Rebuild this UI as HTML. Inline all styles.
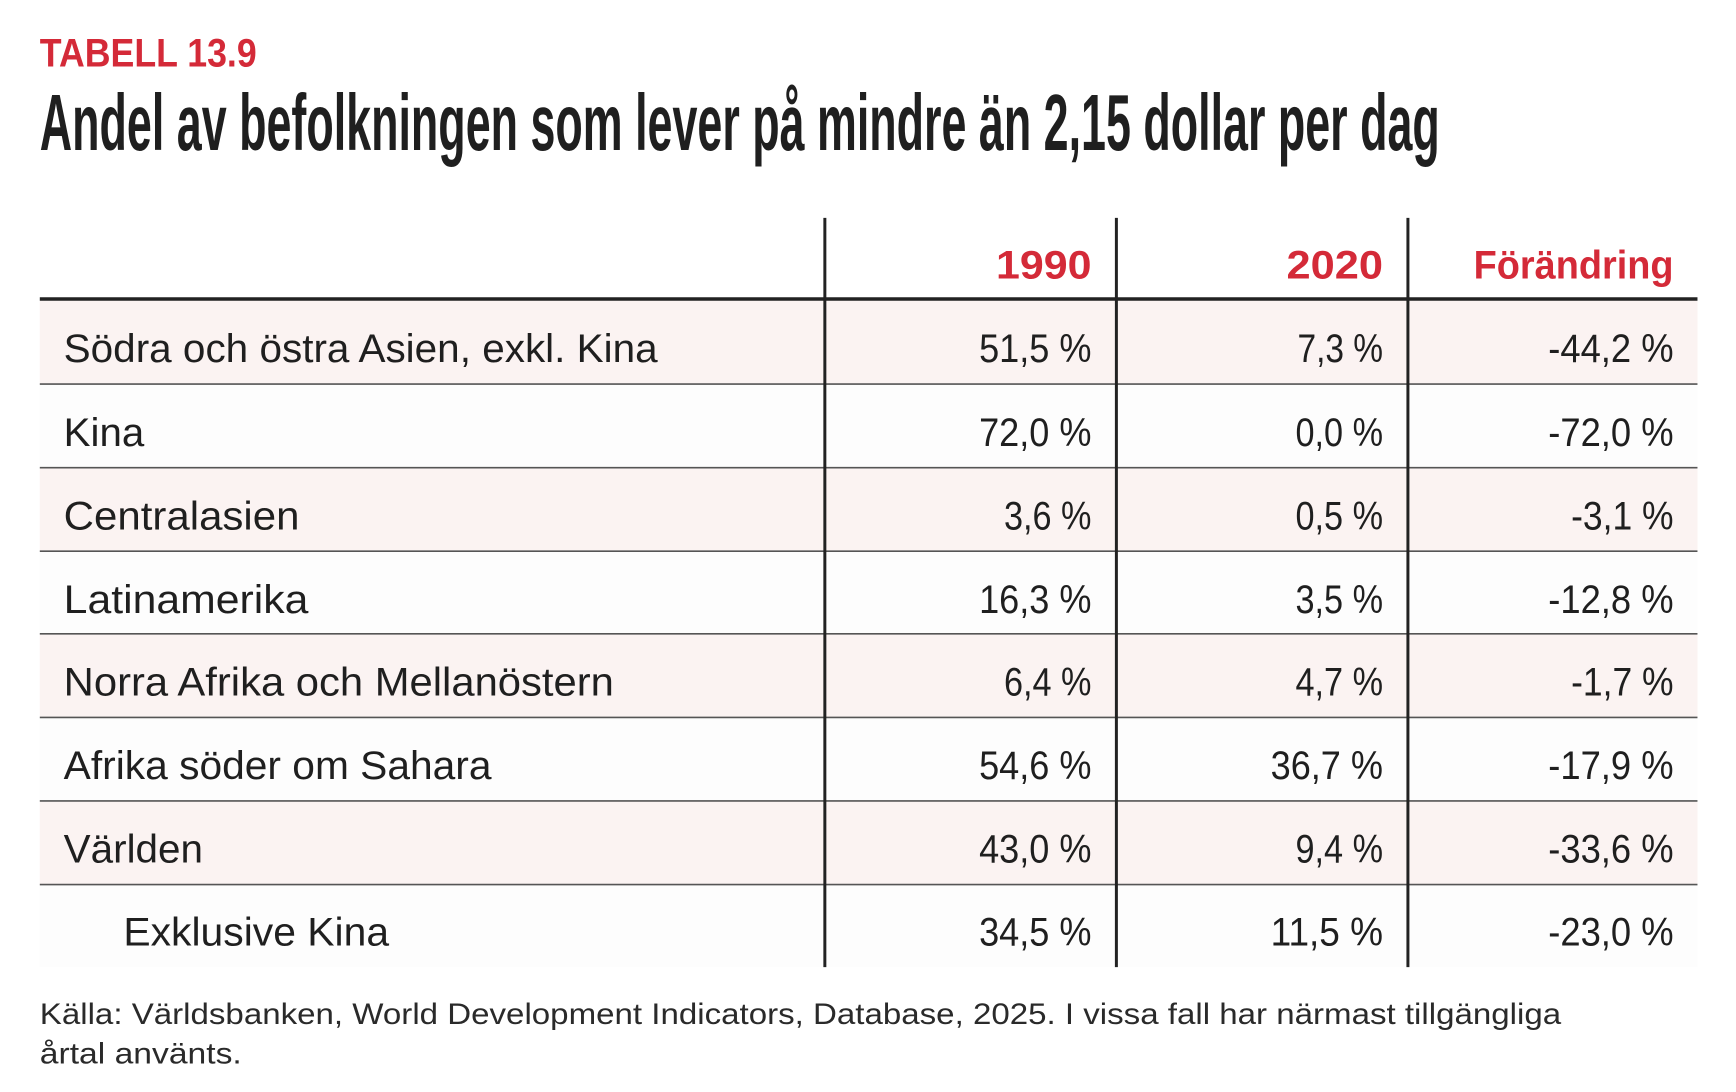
<!DOCTYPE html>
<html><head><meta charset="utf-8"><style>
html,body{margin:0;padding:0;background:#fff;}
svg{display:block;}
text{font-family:"Liberation Sans",sans-serif;}
</style></head><body>
<svg width="1736" height="1092" viewBox="0 0 1736 1092" xmlns="http://www.w3.org/2000/svg">
<rect width="1736" height="1092" fill="#fff"/>
<g transform="scale(0.995)">
<text x="40" y="67" font-size="40" font-weight="bold" fill="#d42a38" textLength="218" lengthAdjust="spacingAndGlyphs">TABELL 13.9</text>
<text x="40" y="151" font-size="80" font-weight="bold" fill="#1f1f1f" textLength="1407" lengthAdjust="spacingAndGlyphs">Andel av befolkningen som lever på mindre än 2,15 dollar per dag</text>

<g>
<rect x="40" y="302" width="1666" height="84" fill="#fbf3f2"/>
<rect x="40" y="386" width="1666" height="84" fill="#fdfdfd"/>
<rect x="40" y="470" width="1666" height="84" fill="#fbf3f2"/>
<rect x="40" y="554" width="1666" height="84" fill="#fdfdfd"/>
<rect x="40" y="637" width="1666" height="84" fill="#fbf3f2"/>
<rect x="40" y="721" width="1666" height="84" fill="#fdfdfd"/>
<rect x="40" y="805" width="1666" height="84" fill="#fbf3f2"/>
<rect x="40" y="889" width="1666" height="83" fill="#fdfdfd"/>
</g>
<g stroke="#555" stroke-width="1.6">
<line x1="40" y1="386" x2="1706" y2="386"/>
<line x1="40" y1="470" x2="1706" y2="470"/>
<line x1="40" y1="554" x2="1706" y2="554"/>
<line x1="40" y1="637" x2="1706" y2="637"/>
<line x1="40" y1="721" x2="1706" y2="721"/>
<line x1="40" y1="805" x2="1706" y2="805"/>
<line x1="40" y1="889" x2="1706" y2="889"/>
</g>
<line x1="40" y1="300.5" x2="1706" y2="300.5" stroke="#222" stroke-width="3.5"/>
<g stroke="#222" stroke-width="3">
<line x1="829" y1="219" x2="829" y2="972"/>
<line x1="1122" y1="219" x2="1122" y2="972"/>
<line x1="1415" y1="219" x2="1415" y2="972"/>
</g>

<g font-size="40" font-weight="bold" fill="#d42a38" text-anchor="end">
<text x="1097" y="280" textLength="96" lengthAdjust="spacingAndGlyphs">1990</text>
<text x="1390" y="280" textLength="97" lengthAdjust="spacingAndGlyphs">2020</text>
<text x="1682" y="280" textLength="201" lengthAdjust="spacingAndGlyphs">Förändring</text>
</g>

<g font-size="40" fill="#1f1f1f">
<text x="64" y="364" textLength="597" lengthAdjust="spacingAndGlyphs">Södra och östra Asien, exkl. Kina</text>
<text x="64" y="448" textLength="81" lengthAdjust="spacingAndGlyphs">Kina</text>
<text x="64" y="532" textLength="237" lengthAdjust="spacingAndGlyphs">Centralasien</text>
<text x="64" y="616" textLength="246" lengthAdjust="spacingAndGlyphs">Latinamerika</text>
<text x="64" y="699" textLength="553" lengthAdjust="spacingAndGlyphs">Norra Afrika och Mellanöstern</text>
<text x="64" y="783" textLength="430" lengthAdjust="spacingAndGlyphs">Afrika söder om Sahara</text>
<text x="64" y="867" textLength="140" lengthAdjust="spacingAndGlyphs">Världen</text>
<text x="124" y="950" textLength="267" lengthAdjust="spacingAndGlyphs">Exklusive Kina</text>
</g>

<g font-size="40" fill="#1f1f1f" text-anchor="end">
<text x="1097" y="364" textLength="113" lengthAdjust="spacingAndGlyphs">51,5 %</text>
<text x="1390" y="364" textLength="86" lengthAdjust="spacingAndGlyphs">7,3 %</text>
<text x="1682" y="364" textLength="126" lengthAdjust="spacingAndGlyphs">-44,2 %</text>

<text x="1097" y="448" textLength="113" lengthAdjust="spacingAndGlyphs">72,0 %</text>
<text x="1390" y="448" textLength="88" lengthAdjust="spacingAndGlyphs">0,0 %</text>
<text x="1682" y="448" textLength="126" lengthAdjust="spacingAndGlyphs">-72,0 %</text>

<text x="1097" y="532" textLength="88" lengthAdjust="spacingAndGlyphs">3,6 %</text>
<text x="1390" y="532" textLength="88" lengthAdjust="spacingAndGlyphs">0,5 %</text>
<text x="1682" y="532" textLength="103" lengthAdjust="spacingAndGlyphs">-3,1 %</text>

<text x="1097" y="616" textLength="113" lengthAdjust="spacingAndGlyphs">16,3 %</text>
<text x="1390" y="616" textLength="88" lengthAdjust="spacingAndGlyphs">3,5 %</text>
<text x="1682" y="616" textLength="126" lengthAdjust="spacingAndGlyphs">-12,8 %</text>

<text x="1097" y="699" textLength="88" lengthAdjust="spacingAndGlyphs">6,4 %</text>
<text x="1390" y="699" textLength="88" lengthAdjust="spacingAndGlyphs">4,7 %</text>
<text x="1682" y="699" textLength="103" lengthAdjust="spacingAndGlyphs">-1,7 %</text>

<text x="1097" y="783" textLength="113" lengthAdjust="spacingAndGlyphs">54,6 %</text>
<text x="1390" y="783" textLength="113" lengthAdjust="spacingAndGlyphs">36,7 %</text>
<text x="1682" y="783" textLength="126" lengthAdjust="spacingAndGlyphs">-17,9 %</text>

<text x="1097" y="867" textLength="113" lengthAdjust="spacingAndGlyphs">43,0 %</text>
<text x="1390" y="867" textLength="88" lengthAdjust="spacingAndGlyphs">9,4 %</text>
<text x="1682" y="867" textLength="126" lengthAdjust="spacingAndGlyphs">-33,6 %</text>

<text x="1097" y="950" textLength="113" lengthAdjust="spacingAndGlyphs">34,5 %</text>
<text x="1390" y="950" textLength="113" lengthAdjust="spacingAndGlyphs">11,5 %</text>
<text x="1682" y="950" textLength="126" lengthAdjust="spacingAndGlyphs">-23,0 %</text>
</g>

<g font-size="30" fill="#2a2a2a">
<text x="40" y="1029" textLength="1529" lengthAdjust="spacingAndGlyphs">Källa: Världsbanken, World Development Indicators, Database, 2025. I vissa fall har närmast tillgängliga</text>
<text x="40" y="1069" textLength="203" lengthAdjust="spacingAndGlyphs">årtal använts.</text>
</g>
</g>
</svg>
</body></html>
